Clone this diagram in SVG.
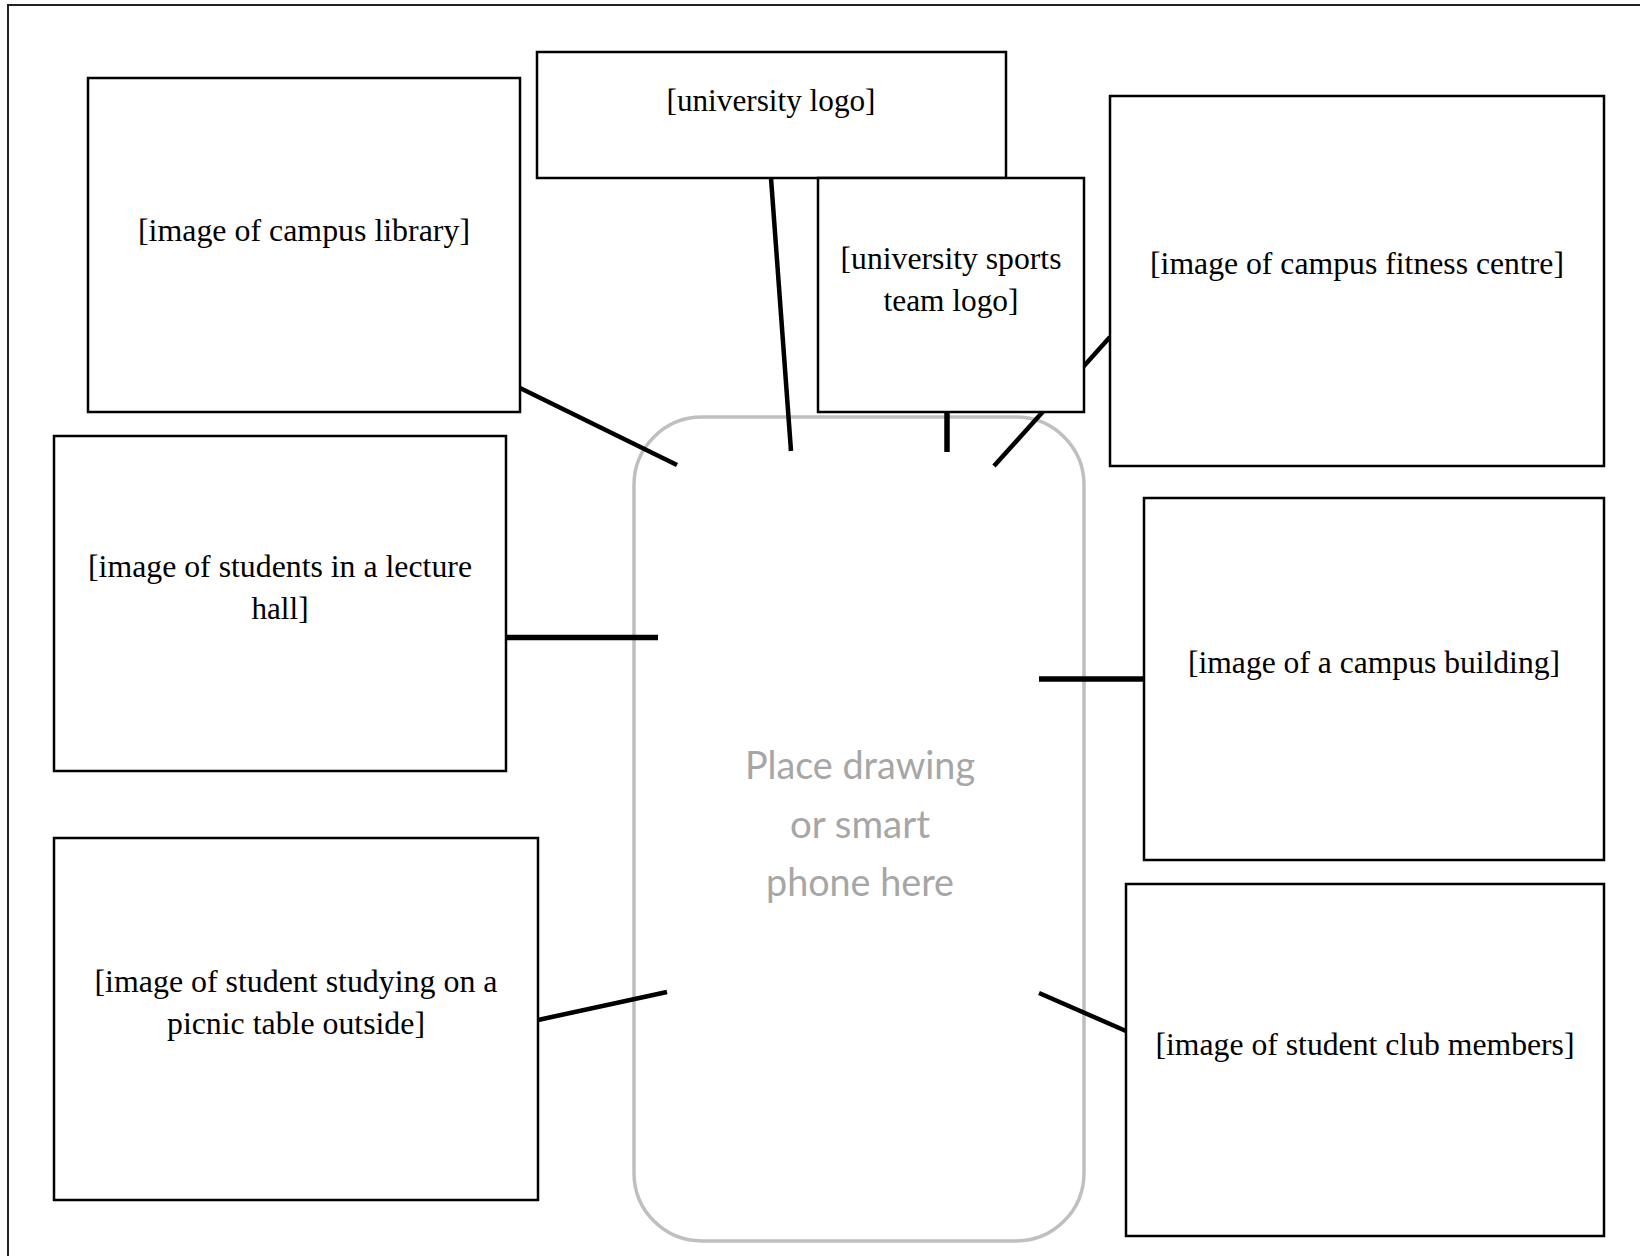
<svg xmlns="http://www.w3.org/2000/svg" width="1640" height="1256" viewBox="0 0 1640 1256">
<style>
.box{fill:#fff;stroke:#000;stroke-width:2.5}
.lbl{font-family:"Liberation Serif","Times New Roman",serif;font-size:32px;fill:#000;text-anchor:middle}
.conn{stroke:#000;stroke-width:4.5;fill:none;stroke-linecap:butt}
.thick{stroke-width:5.5}
.phone{fill:none;stroke:#bfbfbf;stroke-width:3.5}
.ph{font-family:Lato,"Open Sans",sans-serif;font-size:39px;fill:#a6a6a6;text-anchor:middle}
</style>
<rect width="1640" height="1256" fill="#fff"/>
<path d="M8,1256 V5 H1640" fill="none" stroke="#222" stroke-width="2"/>
<g id="phone">
<rect class="phone" x="634" y="417" width="450" height="824" rx="68" ry="68"/>
<text class="ph" x="860" y="779" textLength="230" lengthAdjust="spacingAndGlyphs">Place drawing</text>
<text class="ph" x="860" y="838" textLength="140" lengthAdjust="spacingAndGlyphs">or smart</text>
<text class="ph" x="860" y="896" textLength="188" lengthAdjust="spacingAndGlyphs">phone here</text>
</g>
<g id="connectors">
<line class="conn" x1="520" y1="388" x2="677" y2="465"/>
<line class="conn" x1="771" y1="178" x2="791" y2="451"/>
<line class="conn thick" x1="947" y1="412" x2="947" y2="452"/>
<line class="conn" x1="1110" y1="337" x2="994" y2="466"/>
<line class="conn thick" x1="506" y1="637.5" x2="658" y2="637.5"/>
<line class="conn thick" x1="1039" y1="679" x2="1144" y2="679"/>
<line class="conn" x1="538" y1="1020" x2="667" y2="992"/>
<line class="conn" x1="1039" y1="993" x2="1126" y2="1031"/>
</g>
<g id="library">
<rect class="box" x="88" y="78" width="432" height="334"/>
<text class="lbl" x="304" y="241" textLength="332" lengthAdjust="spacingAndGlyphs">[image of campus library]</text>
</g>
<g id="university-logo">
<rect class="box" x="537" y="52" width="469" height="126"/>
<text class="lbl" x="771" y="111" textLength="209" lengthAdjust="spacingAndGlyphs">[university logo]</text>
</g>
<g id="sports-logo">
<rect class="box" x="818" y="178" width="266" height="234"/>
<text class="lbl" x="951" y="269" textLength="221" lengthAdjust="spacingAndGlyphs">[university sports</text>
<text class="lbl" x="951" y="311" textLength="135" lengthAdjust="spacingAndGlyphs">team logo]</text>
</g>
<g id="fitness-centre">
<rect class="box" x="1110" y="96" width="494" height="370"/>
<text class="lbl" x="1357" y="274" textLength="414" lengthAdjust="spacingAndGlyphs">[image of campus fitness centre]</text>
</g>
<g id="lecture-hall">
<rect class="box" x="54" y="436" width="452" height="335"/>
<text class="lbl" x="280" y="577" textLength="384" lengthAdjust="spacingAndGlyphs">[image of students in a lecture</text>
<text class="lbl" x="280" y="619" textLength="57" lengthAdjust="spacingAndGlyphs">hall]</text>
</g>
<g id="campus-building">
<rect class="box" x="1144" y="498" width="460" height="362"/>
<text class="lbl" x="1374" y="673" textLength="372" lengthAdjust="spacingAndGlyphs">[image of a campus building]</text>
</g>
<g id="picnic-table">
<rect class="box" x="54" y="838" width="484" height="362"/>
<text class="lbl" x="296" y="992" textLength="403" lengthAdjust="spacingAndGlyphs">[image of student studying on a</text>
<text class="lbl" x="296" y="1034" textLength="258" lengthAdjust="spacingAndGlyphs">picnic table outside]</text>
</g>
<g id="club-members">
<rect class="box" x="1126" y="884" width="478" height="352"/>
<text class="lbl" x="1365" y="1055" textLength="419" lengthAdjust="spacingAndGlyphs">[image of student club members]</text>
</g>
</svg>
